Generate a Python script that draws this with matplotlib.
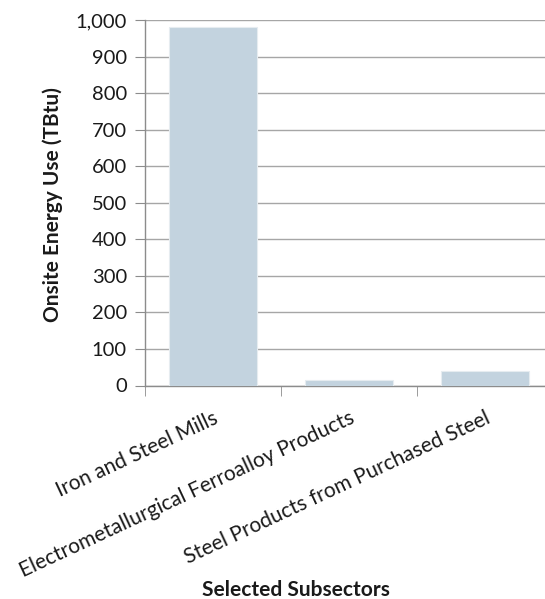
import matplotlib
matplotlib.use("Agg")
import matplotlib.pyplot as plt
import numpy as np
from matplotlib.ticker import FuncFormatter, FixedLocator

categories = ["Iron and Steel Mills", "Electrometallurgical Ferroalloy Products",
              "Steel Products from Purchased Steel"]
values = [980, 15, 41]
yticks = [0, 100, 200, 300, 400, 500, 600, 700, 800, 900, 1000]

plt.rcParams['font.family'] = ['Lato', 'DejaVu Sans']

fig = plt.figure(figsize=(5.45, 5.99), dpi=100)
ax = fig.add_axes([145/545, (599-385.5)/599, (553-145)/545, (385.5-20)/599])

x = np.arange(len(categories))
ax.bar(x, values, width=0.65, color="#C3D3DF", edgecolor="#E6ECF0", linewidth=0.8, zorder=3)

ax.set_xlim(-0.5, len(categories) - 0.5)
ax.set_ylim(0, 1000)
ax.set_yticks(yticks)
ax.yaxis.set_major_formatter(FuncFormatter(lambda v, p: f"{int(v):,}"))
ax.grid(axis='y', color="#A6A6A6", linewidth=1.0, zorder=0)
ax.set_axisbelow(True)

for s in ['top', 'right']:
    ax.spines[s].set_visible(False)
for s in ['left', 'bottom']:
    ax.spines[s].set_color("#8C8C8C")
    ax.spines[s].set_linewidth(1.0)

ax.tick_params(axis='y', direction='out', length=7, color="#8C8C8C", labelsize=14.5,
               labelcolor="#1A1A1A", pad=6)
ax.set_xticks(x)
ax.set_xticklabels(categories, rotation=25, ha='right', rotation_mode='anchor',
                   fontsize=15, color="#1A1A1A")
ax.tick_params(axis='x', which='major', length=0, pad=16)
ax.xaxis.set_minor_locator(FixedLocator([-0.5, 0.5, 1.5]))
ax.tick_params(axis='x', which='minor', direction='out', length=7, color="#8C8C8C")

ax.set_ylabel("Onsite Energy Use (TBtu)", fontsize=15, fontweight='bold', color="#1A1A1A")
ax.yaxis.set_label_coords((63-145)/408, (385.5-205)/365.5)
fig.text(296/545, 1 - 590/599, "Selected Subsectors", fontsize=15, fontweight='bold',
         color="#1A1A1A", ha='center', va='center')

fig.savefig("out.png", dpi=100)
